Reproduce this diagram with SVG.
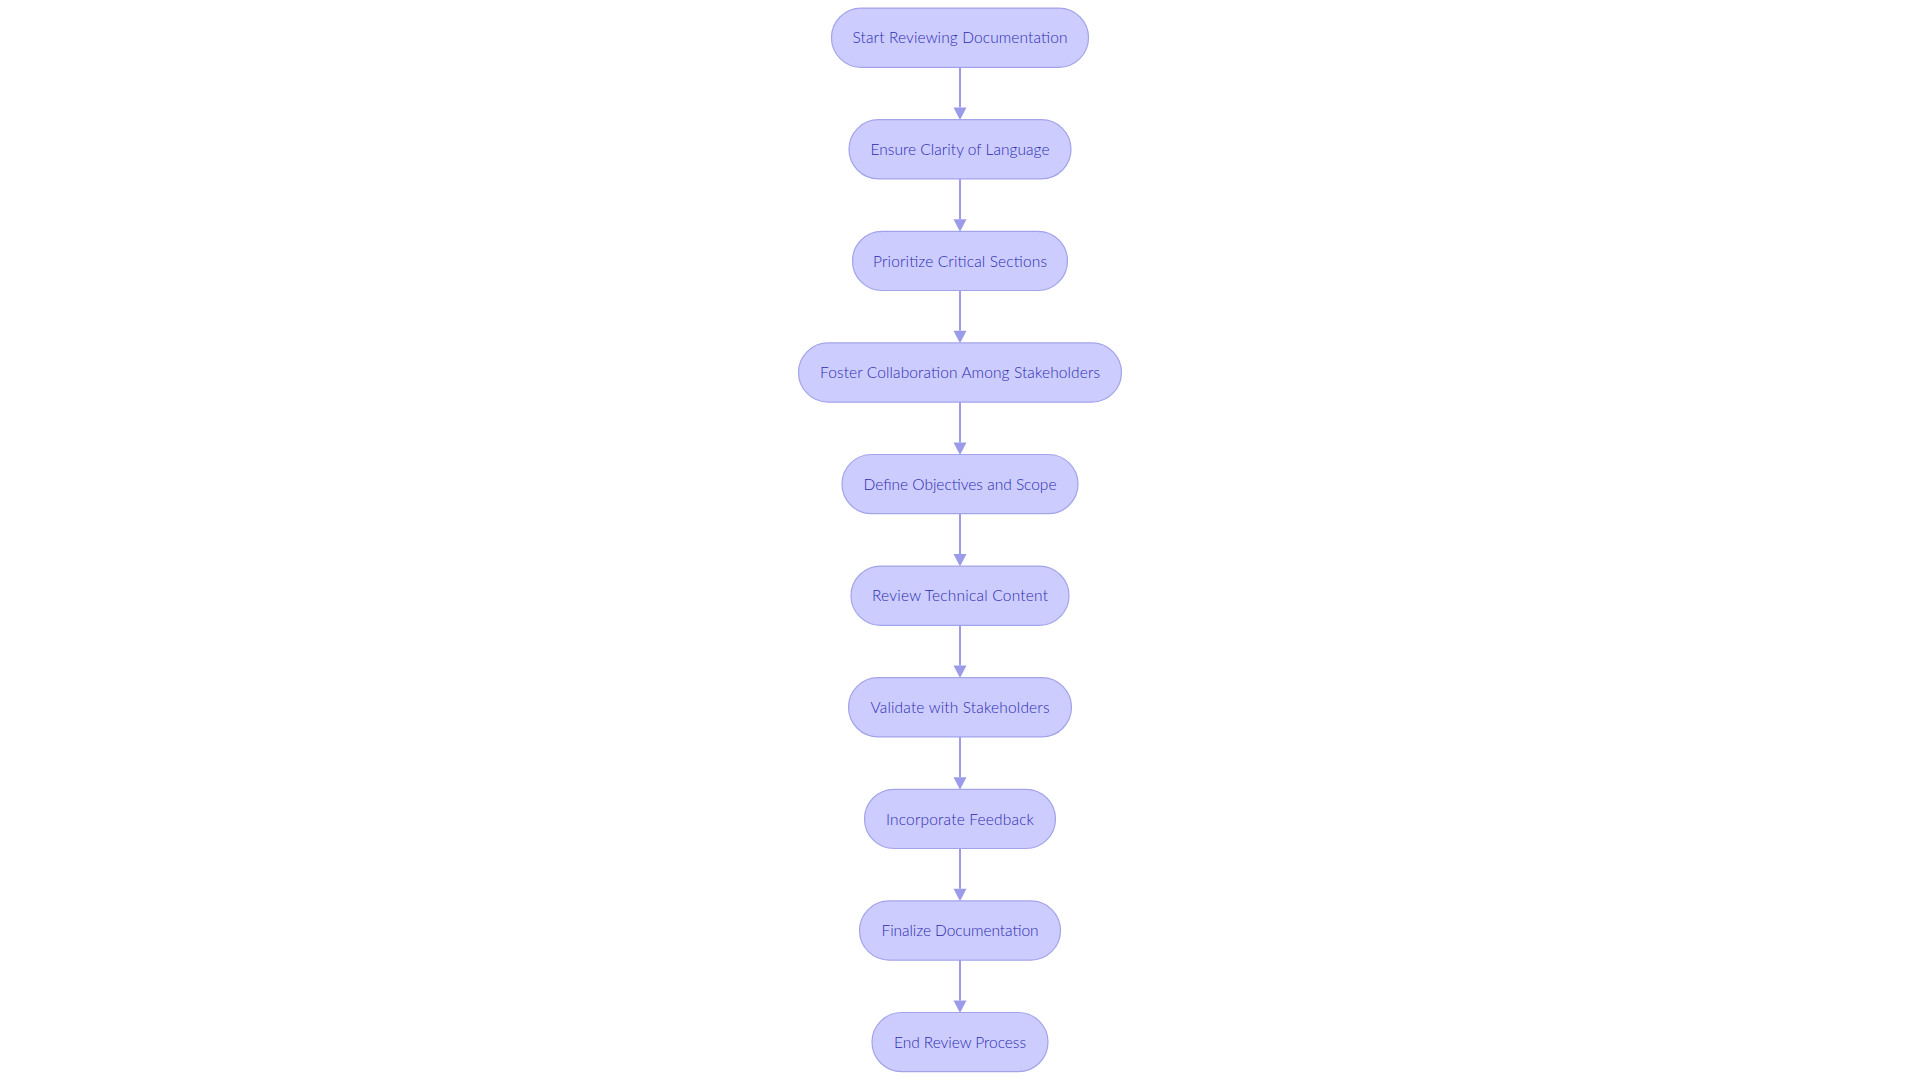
<svg xmlns="http://www.w3.org/2000/svg" width="1920" height="1080" viewBox="0 0 1920 1080">
<style>
.node rect{fill:#ccccff;stroke:#a3a3ea;stroke-width:1.2}
.node text{font-family:Lato,"Noto Sans","Liberation Sans",sans-serif;font-size:15.5px;font-weight:300;fill:#2c2cae;text-anchor:middle}
.edge{stroke:#9b9be9;stroke-width:2;fill:none}
</style>
<defs>
<marker id="arr" markerUnits="userSpaceOnUse" markerWidth="13" markerHeight="13" refX="0" refY="6.5" orient="auto" overflow="visible">
<path d="M0,0 L12.5,6.5 L0,13 z" fill="#9b9be9"/>
</marker>
</defs>
<rect width="1920" height="1080" fill="#ffffff"/>
<g id="connectors">
<path class="edge" marker-end="url(#arr)" d="M960,67.3 L960,107.6"/>
<path class="edge" marker-end="url(#arr)" d="M960,178.9 L960,219.2"/>
<path class="edge" marker-end="url(#arr)" d="M960,290.5 L960,330.8"/>
<path class="edge" marker-end="url(#arr)" d="M960,402.1 L960,442.4"/>
<path class="edge" marker-end="url(#arr)" d="M960,513.7 L960,554.0"/>
<path class="edge" marker-end="url(#arr)" d="M960,625.3 L960,665.6"/>
<path class="edge" marker-end="url(#arr)" d="M960,736.9 L960,777.2"/>
<path class="edge" marker-end="url(#arr)" d="M960,848.5 L960,888.8"/>
<path class="edge" marker-end="url(#arr)" d="M960,960.1 L960,1000.4"/>
</g>
<g id="n0" class="node"><rect x="831.5" y="8.1" width="257" height="59.2" rx="29.6"/><text x="960" y="43.3" textLength="215" lengthAdjust="spacing">Start Reviewing Documentation</text></g>
<g id="n1" class="node"><rect x="849" y="119.7" width="222" height="59.2" rx="29.6"/><text x="960" y="154.9" textLength="179" lengthAdjust="spacing">Ensure Clarity of Language</text></g>
<g id="n2" class="node"><rect x="852.5" y="231.3" width="215" height="59.2" rx="29.6"/><text x="960" y="266.5" textLength="174" lengthAdjust="spacing">Prioritize Critical Sections</text></g>
<g id="n3" class="node"><rect x="798.5" y="342.9" width="323" height="59.2" rx="29.6"/><text x="960" y="378.1" textLength="280" lengthAdjust="spacing">Foster Collaboration Among Stakeholders</text></g>
<g id="n4" class="node"><rect x="842" y="454.5" width="236" height="59.2" rx="29.6"/><text x="960" y="489.7" textLength="193" lengthAdjust="spacing">Define Objectives and Scope</text></g>
<g id="n5" class="node"><rect x="851" y="566.1" width="218" height="59.2" rx="29.6"/><text x="960" y="601.3" textLength="176" lengthAdjust="spacing">Review Technical Content</text></g>
<g id="n6" class="node"><rect x="848.5" y="677.7" width="223" height="59.2" rx="29.6"/><text x="960" y="712.9" textLength="179" lengthAdjust="spacing">Validate with Stakeholders</text></g>
<g id="n7" class="node"><rect x="864.5" y="789.3" width="191" height="59.2" rx="29.6"/><text x="960" y="824.5" textLength="148" lengthAdjust="spacing">Incorporate Feedback</text></g>
<g id="n8" class="node"><rect x="859.5" y="900.9" width="201" height="59.2" rx="29.6"/><text x="960" y="936.1" textLength="157" lengthAdjust="spacing">Finalize Documentation</text></g>
<g id="n9" class="node"><rect x="872" y="1012.5" width="176" height="59.2" rx="29.6"/><text x="960" y="1047.7" textLength="132" lengthAdjust="spacing">End Review Process</text></g>
</svg>
